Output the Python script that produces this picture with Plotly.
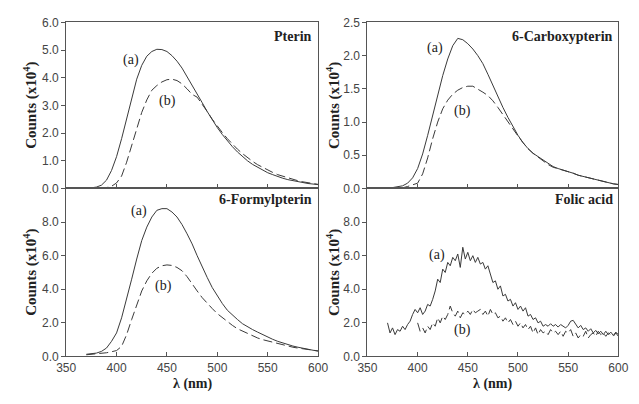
import plotly.graph_objects as go

# ---------------- data (counts x10^4) ----------------
wl5 = list(range(370, 601, 5))

pterin_a = [0.0, 0.02, 0.05, 0.12, 0.3, 0.65, 1.15, 1.8, 2.55, 3.3, 3.95, 4.45, 4.78, 4.95, 5.03, 5.02,
            4.95, 4.8, 4.6, 4.35, 4.05, 3.75, 3.42, 3.1, 2.78, 2.48, 2.2, 1.95, 1.72, 1.51, 1.32, 1.15,
            1.0, 0.87, 0.76, 0.66, 0.57, 0.5, 0.43, 0.37, 0.32, 0.28, 0.24, 0.21, 0.18, 0.16, 0.14]
pterin_b = [0.0, 0.0, 0.0, 0.01, 0.03, 0.08, 0.2, 0.45, 0.95, 1.55, 2.2, 2.75, 3.2, 3.55, 3.72, 3.85,
            3.93, 3.95, 3.9, 3.78, 3.6, 3.4, 3.3, 3.05, 2.78, 2.5, 2.25, 2.02, 1.8, 1.6, 1.42, 1.26,
            1.11, 0.98, 0.86, 0.76, 0.66, 0.58, 0.5, 0.44, 0.38, 0.33, 0.28, 0.24, 0.21, 0.18, 0.15]

carboxy_a = [0.0, 0.01, 0.02, 0.04, 0.08, 0.16, 0.3, 0.52, 0.8, 1.1, 1.4, 1.7, 1.95, 2.15, 2.26, 2.24,
             2.18, 2.1, 2.0, 1.88, 1.72, 1.55, 1.38, 1.22, 1.07, 0.93, 0.8, 0.69, 0.6, 0.53, 0.48, 0.42,
             0.37, 0.33, 0.3, 0.28, 0.26, 0.23, 0.2, 0.18, 0.16, 0.14, 0.12, 0.1, 0.09, 0.07, 0.06]
carboxy_b = [0.0, 0.0, 0.0, 0.01, 0.03, 0.05, 0.08, 0.22, 0.46, 0.75, 1.0, 1.2, 1.33, 1.42, 1.48, 1.52,
             1.54, 1.54, 1.5, 1.45, 1.4, 1.32, 1.22, 1.11, 1.0, 0.89, 0.79, 0.69, 0.6, 0.53, 0.47, 0.41,
             0.36, 0.32, 0.3, 0.28, 0.26, 0.23, 0.2, 0.18, 0.16, 0.14, 0.12, 0.1, 0.09, 0.07, 0.06]

formyl_a = [0.13, 0.17, 0.2, 0.3, 0.5, 0.9, 1.4, 2.3, 3.4, 4.6, 5.8, 6.9, 7.7, 8.3, 8.7, 8.8,
            8.8, 8.6, 8.3, 7.85, 7.3, 6.7, 6.0, 5.3, 4.7, 4.1, 3.6, 3.15, 2.75, 2.45, 2.2, 1.95,
            1.75, 1.6, 1.45, 1.3, 1.15, 1.02, 0.9, 0.8, 0.7, 0.62, 0.55, 0.48, 0.42, 0.37, 0.32]
formyl_b = [0.1, 0.12, 0.14, 0.17, 0.22, 0.28, 0.35, 0.6, 1.3, 2.2, 3.1, 3.9, 4.5, 4.95, 5.25, 5.4,
            5.45, 5.42, 5.3, 5.1, 4.75, 4.3, 3.9, 3.5, 3.15, 2.85, 2.55, 2.3, 2.05, 1.85, 1.65, 1.5,
            1.35, 1.22, 1.1, 1.0, 0.92, 0.84, 0.76, 0.68, 0.61, 0.55, 0.5, 0.45, 0.41, 0.37, 0.33]

wl_folic_a = [370 + 2.5 * i for i in range(93)]
folic_a = [2.0, 1.4, 1.7, 1.3, 1.6, 1.5, 1.8, 1.6, 1.9, 2.1, 2.5, 2.8, 2.6, 2.9, 2.5, 2.7, 3.1, 3.0,
           3.4, 3.9, 4.6, 4.4, 5.2, 5.0, 5.6, 5.4, 5.9, 5.7, 6.1, 5.3, 6.5, 5.8, 6.2, 5.7, 6.0, 5.6,
           5.9, 5.5, 5.6, 5.2, 5.4, 4.9, 4.4, 4.5, 4.0, 4.2, 3.6, 3.7, 3.3, 3.4, 3.0, 3.2, 2.8, 3.0,
           2.7, 2.9, 2.4, 2.5, 2.2, 2.3, 2.0, 2.1, 1.8, 1.9, 1.8, 1.95, 1.8, 1.9, 1.75, 1.9, 1.8, 1.7,
           1.85, 2.1, 2.15, 1.9, 1.7, 1.85, 1.6, 1.7, 1.5, 1.65, 1.4, 1.55, 1.35, 1.5, 1.3, 1.5, 1.3,
           1.45, 1.25, 1.45, 1.3]
wl_folic_b = [400 + 2.5 * i for i in range(81)]
folic_b = [2.0, 1.5, 1.7, 1.4, 1.8, 1.6, 2.0, 1.8, 2.3, 2.0, 2.4, 2.2, 2.5, 3.0, 2.6, 2.4, 2.7, 2.3,
           2.6, 2.5, 2.7, 2.5, 2.8, 2.6, 2.7, 2.8, 2.5, 2.7, 2.4, 2.8, 2.5, 2.6, 2.3, 2.4, 2.1, 2.3,
           2.0, 2.2, 1.9, 2.1, 1.8, 2.0, 1.7, 1.9, 1.6, 1.8, 1.4, 1.7, 1.3, 1.6, 1.4, 1.5, 1.3, 1.6,
           1.4, 1.5, 1.3, 1.5, 1.2, 1.5, 1.4, 1.6, 1.2, 1.4, 1.1, 1.3, 1.2, 1.5, 1.1, 1.3, 1.4, 1.2,
           1.5, 1.3, 1.4, 1.2, 1.4, 1.3, 1.2, 1.4, 1.2]

panel_names = ["Pterin", "6-Carboxypterin", "6-Formylpterin", "Folic acid"]
y_ranges = [[0, 6], [0, 2.5], [0, 10], [0, 10]]
y_ticks = [[0, 1, 2, 3, 4, 5, 6], [0, 0.5, 1, 1.5, 2, 2.5], [0, 2, 4, 6, 8], [0, 2, 4, 6, 8]]
x_ticks = [350, 400, 450, 500, 550, 600]
label_pos = [((414.5, 4.65), (450.5, 3.17)), ((417.5, 2.12), (444.5, 1.16)),
             ((422.5, 8.65), (446.5, 4.2)), ((419.5, 6.05), (444.5, 1.57))]

# ---------------- figure ----------------
W, H = 639, 404
LINE = "#3a3a3a"
AX = "#555555"
SERIF = "Liberation Serif, Times New Roman, serif"
SANS = "Liberation Sans, Arial, sans-serif"

def px_x(p):
    return p / W

def px_y(p):
    return 1 - p / H

xdom = [[px_x(58), px_x(318)], [px_x(369), px_x(628)]]
ydom = [[px_y(188), px_y(16)], [px_y(362), px_y(188)]]

series = [
    (wl5, pterin_a, wl5, pterin_b),
    (wl5, carboxy_a, wl5, carboxy_b),
    (wl5, formyl_a, wl5, formyl_b),
    (wl_folic_a, folic_a, wl_folic_b, folic_b),
]

fig = go.Figure()
layout = dict(width=W, height=H, margin=dict(l=0, r=0, t=0, b=0),
              paper_bgcolor="white", plot_bgcolor="white", showlegend=False)
annotations = []

for i in range(4):
    n = i + 1
    xa = "x" if n == 1 else f"x{n}"
    ya = "y" if n == 1 else f"y{n}"
    col = i % 2
    row = i // 2
    xs_a, ys_a, xs_b, ys_b = series[i]
    fig.add_trace(go.Scatter(x=xs_a, y=ys_a, mode="lines", xaxis=xa, yaxis=ya,
                             line=dict(color=LINE, width=1)))
    fig.add_trace(go.Scatter(x=xs_b, y=ys_b, mode="lines", xaxis=xa, yaxis=ya,
                             line=dict(color=LINE, width=1, dash="9px,4px")))
    xkey = "xaxis" if n == 1 else f"xaxis{n}"
    ykey = "yaxis" if n == 1 else f"yaxis{n}"
    layout[xkey] = dict(domain=xdom[col], anchor=ya, range=[350, 600], tickvals=x_ticks,
                        ticktext=[str(v) for v in x_ticks], showticklabels=(row == 1),
                        ticks="inside", ticklen=4, tickcolor=AX, showline=True, linecolor=AX,
                        linewidth=1, mirror=True, showgrid=False, zeroline=False,
                        tickfont=dict(family=SANS, size=12, color="#444444"))
    layout[ykey] = dict(domain=ydom[row], anchor=xa, range=y_ranges[i], tickvals=y_ticks[i],
                        ticktext=[f"{v:.1f}" for v in y_ticks[i]], ticks="outside", ticklen=4,
                        tickcolor=AX, showline=True, linecolor=AX, linewidth=1, mirror=True,
                        showgrid=False, zeroline=False,
                        tickfont=dict(family=SANS, size=12, color="#444444"))
    # panel name
    annotations.append(dict(text=f"<b>{panel_names[i]}</b>", xref=f"{xa} domain", yref=f"{ya} domain",
                            x=0.985, y=0.97 if row == 0 else 0.99, xanchor="right", yanchor="top",
                            showarrow=False, font=dict(family=SERIF, size=14, color="#222222")))
    # (a) / (b) labels
    (ax_, ay_), (bx_, by_) = label_pos[i]
    for txt, xx, yy in (("(a)", ax_, ay_), ("(b)", bx_, by_)):
        annotations.append(dict(text=txt, xref=xa, yref=ya, x=xx, y=yy, showarrow=False,
                                font=dict(family=SERIF, size=14, color="#222222")))
    # y title
    annotations.append(dict(text="<b>Counts (x10<sup>4</sup>)</b>", xref="paper", yref=f"{ya} domain",
                            x=px_x(21 if col == 0 else 334), y=0.5, textangle=-90, showarrow=False,
                            xanchor="center", yanchor="middle",
                            font=dict(family=SERIF, size=15, color="#222222")))
    if row == 1:
        annotations.append(dict(text="<b>λ (nm)</b>", xref=f"{xa} domain", yref="paper",
                                x=0.5, y=px_y(391), showarrow=False, xanchor="center",
                                yanchor="middle", font=dict(family=SERIF, size=14, color="#222222")))

layout["annotations"] = annotations
fig.update_layout(**layout)
fig.write_html("out.html")
